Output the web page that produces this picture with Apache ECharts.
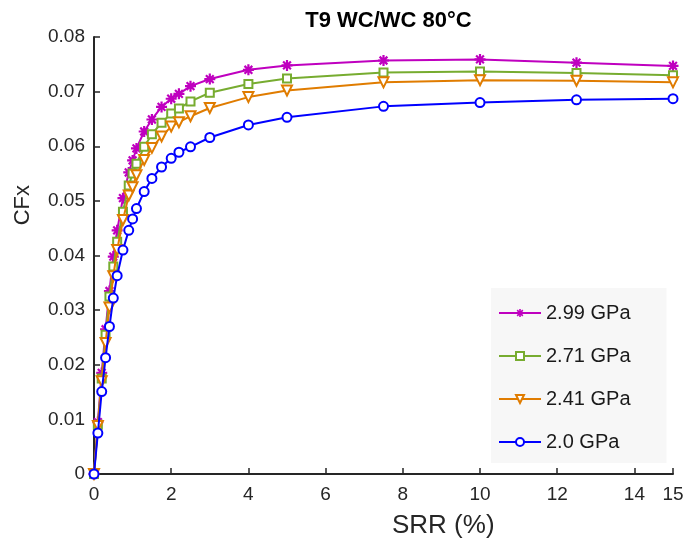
<!DOCTYPE html>
<html>
<head>
<meta charset="utf-8">
<script src="https://cdn.jsdelivr.net/npm/echarts@6/dist/echarts.min.js"></script>
<style>
html,body{margin:0;padding:0;background:#fff;}
#chart{width:683px;height:539px;}
</style>
</head>
<body>
<div id="chart"></div>
<script>
// ---- data ----
var srr = [0, 0.1, 0.2, 0.3, 0.4, 0.5, 0.6, 0.75, 0.9, 1.0, 1.1, 1.3, 1.5, 1.75, 2.0, 2.2, 2.5, 3, 4, 5, 7.5, 10, 12.5, 15];
var seriesNames = ['2.99 GPa', '2.71 GPa', '2.41 GPa', '2.0 GPa'];
var cf299 = [0, 0.0095, 0.0185, 0.0265, 0.0335, 0.0398, 0.0446, 0.0505, 0.0552, 0.0574, 0.0596, 0.0627, 0.0649, 0.0672, 0.0687, 0.0696, 0.0710, 0.0723, 0.0740, 0.0748, 0.0757, 0.0759, 0.0753, 0.0747];
var cf271 = [0, 0.0090, 0.0175, 0.0255, 0.0325, 0.0380, 0.0425, 0.0480, 0.0528, 0.0550, 0.0568, 0.0599, 0.0622, 0.0643, 0.0660, 0.0669, 0.0682, 0.0698, 0.0714, 0.0724, 0.0735, 0.0737, 0.0734, 0.0730];
var cf241 = [0, 0.0088, 0.0170, 0.0240, 0.0305, 0.0362, 0.0410, 0.0465, 0.0510, 0.0525, 0.0547, 0.0575, 0.0597, 0.0618, 0.0636, 0.0644, 0.0655, 0.0670, 0.0690, 0.0702, 0.0717, 0.0721, 0.0720, 0.0717];
var cf200 = [0, 0.0075, 0.0151, 0.0213, 0.0270, 0.0322, 0.0363, 0.0410, 0.0446, 0.0467, 0.0486, 0.0517, 0.0541, 0.0562, 0.0578, 0.0589, 0.0599, 0.0616, 0.0639, 0.0653, 0.0673, 0.0680, 0.0685, 0.0687];
var xTicks = [0, 2, 4, 6, 8, 10, 12, 14, 15];
var titleText = 'T9 WC/WC 80°C';
var xName = 'SRR (%)';
var yName = 'CFx';

// ---- styles ----
var colors = ['#bf00bf', '#77ac30', '#e07c00', '#0000ff'];
var FONT = '"Liberation Sans", Arial, sans-serif';
var AX = '#262626';

function asteriskPath() {
  var L = 5, w = 1.0, parts = [];
  [0, 45, 90, 135].forEach(function (deg) {
    var a = deg * Math.PI / 180, c = Math.cos(a), s = Math.sin(a);
    var px = -s * w, py = c * w;
    var pts = [[c * L + px, s * L + py], [c * L - px, s * L - py], [-c * L - px, -s * L - py], [-c * L + px, -s * L + py]];
    parts.push('M' + pts.map(function (p) { return p[0].toFixed(3) + ',' + p[1].toFixed(3); }).join(' L') + ' Z');
  });
  return 'path://' + parts.join(' ');
}

function pairs(ys) { return srr.map(function (x, i) { return [x, ys[i]]; }); }

var symbols = [asteriskPath(), 'emptyRect', 'emptyTriangle', 'emptyCircle'];
var symSizes = [11, 8, 10, 9];
var symRot = [0, 0, 180, 0];
var datasets = [cf299, cf271, cf241, cf200];

var series = datasets.map(function (d, i) {
  return {
    name: seriesNames[i],
    type: 'line',
    data: pairs(d),
    symbol: symbols[i],
    symbolSize: symSizes[i],
    symbolRotate: symRot[i],
    showAllSymbol: true,
    lineStyle: { color: colors[i], width: 2 },
    itemStyle: { color: colors[i], borderWidth: i === 0 ? 0 : 1.6 },
    emphasis: { disabled: true },
    animation: false,
    z: 2 + i
  };
});

var chart = echarts.init(document.getElementById('chart'), null, { renderer: 'canvas' });
chart.setOption({
  animation: false,
  color: colors,
  title: {
    text: titleText,
    left: 383.5, textAlign: 'center', top: 5,
    textStyle: { fontFamily: FONT, fontSize: 22, fontWeight: 'bold', color: '#000' }
  },
  grid: { left: 94, right: 10, top: 37, bottom: 65, containLabel: false, outerBoundsMode: 'none' },
  legend: {
    orient: 'vertical',
    left: 491, top: 288,
    padding: [13, 36, 9, 7],
    itemGap: 19,
    itemWidth: 42, itemHeight: 10,
    backgroundColor: '#f7f7f7',
    textStyle: { fontFamily: FONT, fontSize: 20, color: '#1a1a1a', lineHeight: 24 },
    data: seriesNames
  },
  xAxis: {
    type: 'value', min: 0, max: 15, interval: 2,
    axisLine: { show: true, lineStyle: { color: AX, width: 2 } },
    axisTick: { show: true, inside: true, length: 6, lineStyle: { color: AX, width: 1.5 }, customValues: xTicks },
    axisLabel: { fontFamily: FONT, fontSize: 19, color: AX, margin: 11, customValues: xTicks },
    splitLine: { show: false }
  },
  yAxis: {
    type: 'value', min: 0, max: 0.08, interval: 0.01,
    axisLine: { show: true, lineStyle: { color: AX, width: 2 } },
    axisTick: { show: true, inside: true, length: 6, lineStyle: { color: AX, width: 1.5 } },
    axisLabel: { fontFamily: FONT, fontSize: 19, color: AX, margin: 9 },
    splitLine: { show: false }
  },
  graphic: [{
    type: 'text',
    left: 12, top: 185,
    rotation: Math.PI / 2,
    style: { text: yName, font: '22px ' + FONT, fill: AX }
  }, {
    type: 'text',
    left: 392, top: 513,
    style: { text: xName, font: '26px ' + FONT, fill: AX }
  }],
  series: series
});
</script>
</body>
</html>
